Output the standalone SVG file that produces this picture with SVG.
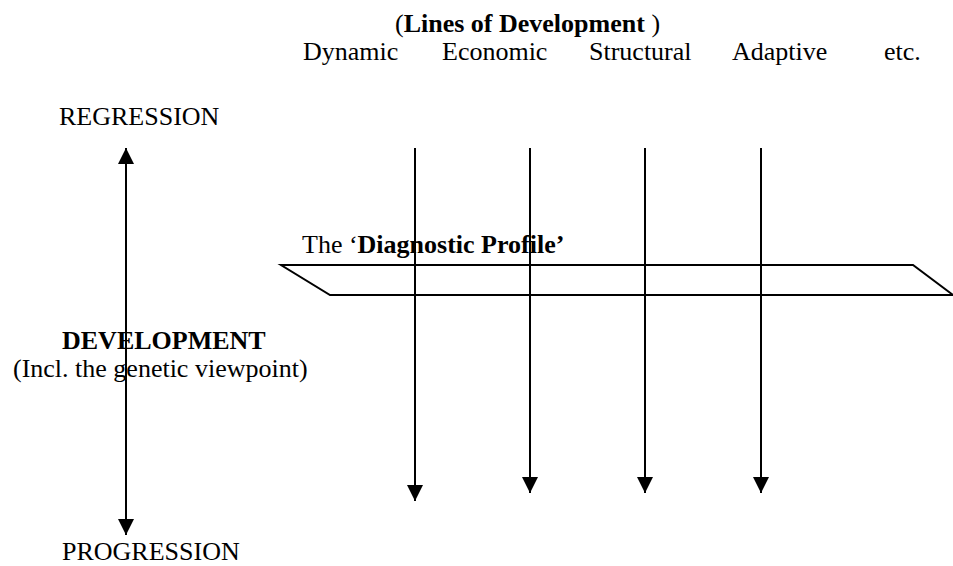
<svg xmlns="http://www.w3.org/2000/svg" width="953" height="566" viewBox="0 0 953 566">
<defs>
<style>
text{font-family:"Liberation Serif","Times New Roman",serif;font-size:26px;fill:#000}
.b{font-weight:bold}
.ln{stroke:#000;stroke-width:2;fill:none}
</style>
<marker id="ah" markerWidth="8" markerHeight="8" refX="8" refY="4" orient="auto" markerUnits="strokeWidth" viewBox="0 0 8 8">
<path d="M0,0 L8,4 L0,8 z" fill="#000"/>
</marker>
</defs>
<rect width="953" height="566" fill="#fff"/>
<g id="header">
<text x="395" y="32">(<tspan class="b">Lines of Development</tspan> )</text>
<text x="303" y="60">Dynamic</text>
<text x="442" y="60">Economic</text>
<text x="589" y="60">Structural</text>
<text x="732" y="60">Adaptive</text>
<text x="884" y="60">etc.</text>
</g>
<g id="regression"><text x="59" y="125">REGRESSION</text></g>
<g id="progression"><text x="62" y="560">PROGRESSION</text></g>
<g id="development">
<text x="62" y="349" class="b">DEVELOPMENT</text>
<text x="13" y="377">(Incl. the genetic viewpoint)</text>
</g>
<g id="profile">
<text x="302" y="253">The ‘<tspan class="b">Diagnostic Profile’</tspan></text>
<polygon class="ln" points="281,265 913,265 953,295 330,295"/>
</g>
<g id="connectors">
<line class="ln" x1="126" y1="340" x2="126" y2="148" marker-end="url(#ah)"/>
<line class="ln" x1="126" y1="340" x2="126" y2="535" marker-end="url(#ah)"/>
<line class="ln" x1="415" y1="148" x2="415" y2="501" marker-end="url(#ah)"/>
<line class="ln" x1="530" y1="148" x2="530" y2="493" marker-end="url(#ah)"/>
<line class="ln" x1="645" y1="148" x2="645" y2="493" marker-end="url(#ah)"/>
<line class="ln" x1="761" y1="148" x2="761" y2="493" marker-end="url(#ah)"/>
</g>
</svg>
